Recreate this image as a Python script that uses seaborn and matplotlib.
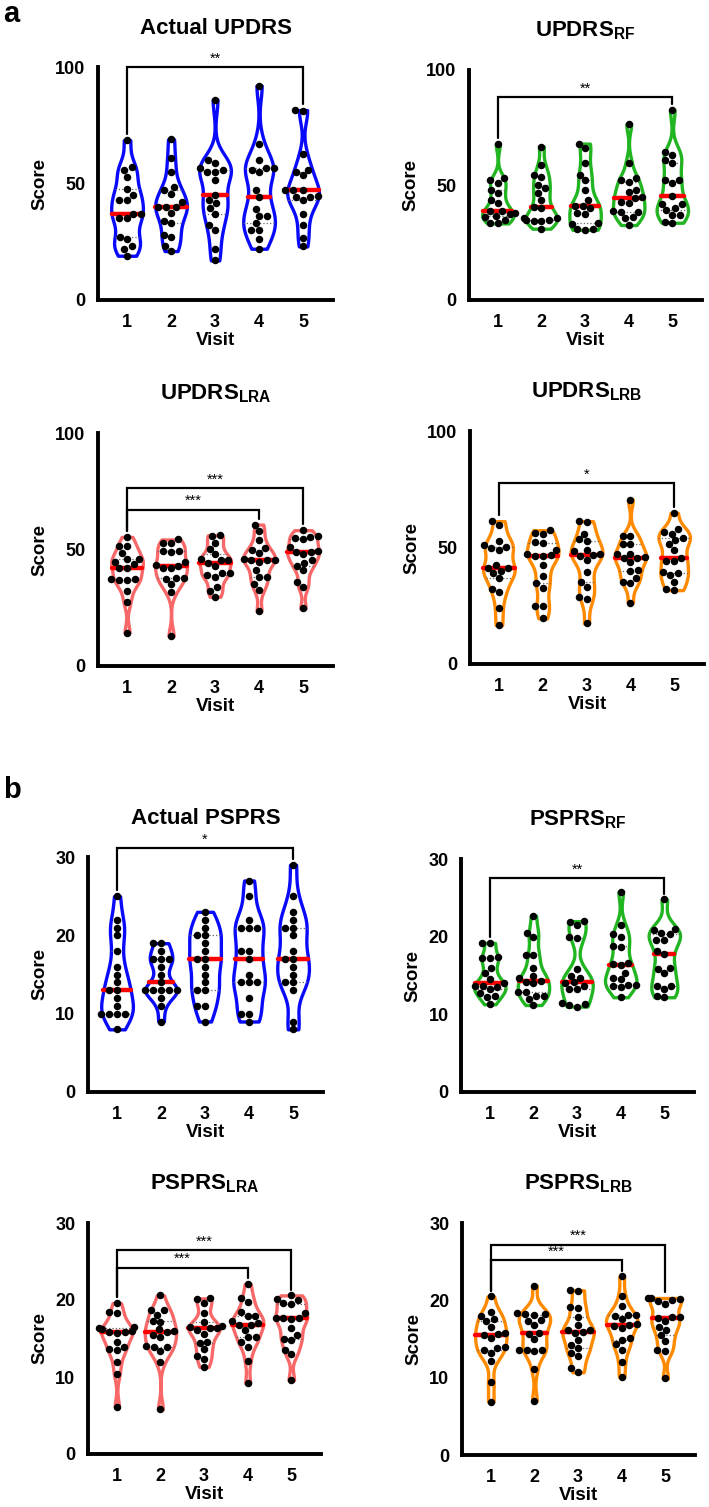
import numpy as np
import pandas as pd
import matplotlib
matplotlib.use('Agg')
import matplotlib.pyplot as plt
import seaborn as sns

sns.set_style('white')
plt.rcParams['font.family'] = ['Liberation Sans', 'DejaVu Sans']
plt.rcParams['font.weight'] = 'bold'
plt.rcParams['text.color'] = 'black'
plt.rcParams['axes.labelcolor'] = 'black'
plt.rcParams['xtick.color'] = 'black'
plt.rcParams['ytick.color'] = 'black'
plt.rcParams['mathtext.fontset'] = 'custom'
plt.rcParams['mathtext.rm'] = 'Liberation Sans:bold'
plt.rcParams['mathtext.it'] = 'Liberation Sans:bold'
plt.rcParams['mathtext.bf'] = 'Liberation Sans:bold'

visits = ['1', '2', '3', '4', '5']

# ---- UPDRS (panel a) ----
updrs_actual = [
    [68.6, 57, 56, 53, 47.5, 45, 43, 43, 37, 37, 35, 35, 27, 26, 23, 22, 19],
    [69, 61, 55, 48.5, 47, 45.5, 42, 40, 40, 40, 37.5, 34, 33, 28, 27, 23, 21],
    [86, 60, 59, 56.5, 56, 55, 55, 51.5, 45, 43, 41.5, 39.5, 37, 32, 30, 22, 17],
    [92, 67, 60, 56.5, 56.5, 56, 55, 47, 44, 39, 36, 36, 33, 30, 30, 26, 22],
    [81.5, 81, 62.5, 56, 55, 53.5, 47, 47, 47, 44.5, 44.3, 44, 43, 37, 32, 26.5, 23],
]
updrs_rf = [
    [68, 53, 52, 51, 48, 46.5, 43.5, 42, 38.7, 38.5, 37.7, 37.5, 36.5, 36, 35, 33.6, 33.3],
    [66.7, 58.5, 54.5, 53.5, 50, 48.5, 46.5, 43.5, 40.3, 40, 35.5, 35.5, 35, 35, 34.5, 34.5, 31],
    [68, 66, 59.5, 54.5, 52, 48, 43.5, 41, 41, 40, 37.7, 37.5, 33.3, 33, 31, 30.7, 30.5],
    [76.5, 59.5, 53, 52, 51.5, 48, 47, 45, 44.2, 42.8, 42, 38.5, 38.4, 38.3, 36, 35.5, 32.6],
    [82.6, 64.5, 63, 61, 59.5, 52.2, 52, 50.7, 45.2, 41.7, 41.7, 40, 39, 37, 37, 34, 33.6],
]
updrs_lra = [
    [55.4, 51.6, 51.5, 48.3, 46.1, 46, 44.7, 43.7, 42.1, 42, 37.3, 37.3, 37, 37, 32, 27.3, 14.3],
    [54.3, 53, 52.6, 49.3, 49.3, 49, 44.7, 43.5, 43, 42, 41.9, 37.6, 37.6, 37.5, 35, 31.6, 12.9],
    [56.1, 56, 53, 50.4, 48, 46, 45.4, 45.3, 44.3, 43, 40, 39.7, 39, 38.3, 34, 32.3, 29.7],
    [60.7, 58, 54, 50.5, 50, 48.3, 46, 45.7, 45.4, 45.4, 44.7, 41, 38, 38, 35, 32.6, 23.7],
    [58.3, 56, 55.4, 55, 54.3, 51, 49.3, 49, 48.9, 48, 45.4, 44.3, 43, 41, 36, 34, 24.7],
]
updrs_lrb = [
    [61.3, 59.6, 53, 51, 50.3, 49.6, 49, 42.7, 41.3, 41, 40, 38.9, 36.7, 32.4, 31, 24, 16.7],
    [57.4, 56.3, 56, 52.4, 52, 49.1, 47, 46.7, 46.5, 46.3, 42.4, 37.9, 34.6, 32.7, 25, 24.7, 19.6],
    [61.3, 61, 56, 53.5, 53, 49, 48.5, 47, 46.7, 46.5, 44.6, 39.6, 35.3, 33.1, 28.9, 27.7, 17.4],
    [70.6, 55, 54.8, 51.7, 51.5, 47.4, 47.3, 46, 45.7, 45.5, 43.9, 40.3, 40, 37.1, 35, 34.8, 26.3],
    [64.9, 58.1, 56.7, 56, 53.9, 53.1, 51.4, 49.1, 45.3, 44.3, 44, 39.3, 39, 38.1, 35.3, 32, 31.7],
]

# ---- PSPRS (panel b) ----
psprs_actual = [
    [25, 22, 21, 20, 18, 16, 15, 14, 13, 13, 12, 11, 10, 10, 10, 10, 8],
    [19, 19, 18, 17, 17, 17, 16, 15, 14, 13, 13, 13, 13, 13, 12, 11, 9],
    [23, 22, 21, 20, 20, 19, 18, 17, 17, 16, 15, 14, 13, 13, 11, 11, 9],
    [27, 25, 22, 21, 21, 21, 18, 18, 17, 15, 14, 14, 14, 12, 10, 10, 9],
    [29, 25, 23, 22, 21, 21, 20, 18, 17, 17, 16, 15, 14, 14, 13, 9, 8],
]
psprs_rf = [
    [19.2, 19.2, 17.4, 17.3, 17.2, 16, 15.3, 14.5, 14, 13.7, 13.7, 13.5, 13.2, 12.7, 12.3, 12.2, 11.3],
    [22.7, 20.5, 20, 17.6, 17.6, 16, 15, 14.7, 14.3, 14.2, 14, 12.9, 12.9, 12.4, 12.4, 12, 11.2],
    [22, 21.9, 21.5, 20, 19.8, 15.8, 15, 14.7, 14.1, 14, 13.6, 13.2, 13.2, 11.5, 11.3, 11.2, 11],
    [25.8, 21.5, 20.3, 20, 18.8, 18.7, 16.6, 16.5, 16.4, 15.3, 14.7, 14.5, 13.8, 13.8, 13.7, 13.5, 12.2],
    [24.8, 21, 20.9, 20.5, 20.3, 19.6, 19.6, 18.2, 17.8, 16, 15.9, 15.3, 13.7, 13.6, 13.3, 12.4, 12.2],
]
psprs_lra = [
    [19.6, 18.4, 18.3, 16.5, 16.3, 16.2, 16, 15.9, 15.8, 15.7, 14.5, 13.9, 13.6, 13.5, 11.9, 10.4, 6.1],
    [20.6, 18.7, 18.7, 18.1, 17.3, 17.2, 16.2, 16, 15.8, 15.5, 15.2, 14, 13.9, 13.9, 13.4, 12, 5.8],
    [20.2, 20.1, 19.6, 18.3, 17.2, 16.6, 16.5, 16.3, 16.3, 16.1, 15.6, 14.5, 14.4, 13.6, 12.7, 12.3, 11.3],
    [22.1, 20.3, 19.8, 18.5, 17.9, 17.9, 17.3, 17, 16.8, 16.7, 16.1, 15.2, 15.2, 14.5, 13.9, 12.1, 9.2],
    [20.6, 20.1, 20, 19.6, 19.5, 18.3, 17.7, 17.6, 17.6, 17.5, 16.3, 15.5, 15, 14.8, 13.5, 13, 9.6],
]
psprs_lrb = [
    [20.5, 18.5, 18, 17.6, 17.3, 16.5, 15.8, 15.6, 15.5, 15.1, 14, 13.8, 13.6, 13.2, 12.2, 9.4, 6.9],
    [21.9, 18.4, 18.2, 18.2, 18.1, 17.4, 17.3, 16.8, 15.8, 15.7, 15, 13.6, 13.6, 13.6, 13.5, 11.1, 7],
    [21.3, 21.2, 19.1, 19, 17.9, 16.8, 16.2, 16.1, 15.9, 15.8, 14.9, 14.2, 13.9, 13.2, 12.8, 11.2, 10.7],
    [23.1, 20.6, 19.3, 18.1, 18.1, 18, 17.6, 16.9, 16.8, 16.7, 16.4, 15.1, 14.9, 14.3, 13.6, 12, 10.1],
    [20.3, 20.3, 20.2, 20, 19.9, 19.5, 17.9, 17.8, 17.7, 17.3, 16.6, 16.2, 15.5, 14.7, 13.6, 13.5, 9.9],
]

# significance brackets: (from visit idx, to visit idx, height, label)
br_updrs_actual = [(0, 4, 100, '**')]
br_updrs_rf = [(0, 4, 88.4, '**')]
br_updrs_lra = [(0, 4, 76.4, '***'), (0, 3, 67.1, '***')]
br_updrs_lrb = [(0, 4, 77.7, '*')]
br_psprs_actual = [(0, 4, 31.1, '*')]
br_psprs_rf = [(0, 4, 27.5, '**')]
br_psprs_lra = [(0, 4, 26.5, '***'), (0, 3, 24.2, '***')]
br_psprs_lrb = [(0, 4, 27.2, '***'), (0, 3, 25.2, '***')]

BLUE = '#0A0AFA'
GREEN = '#22B522'
SALMON = '#F86868'
ORANGE = '#FF8A00'

W, H = 709, 1507
fig = plt.figure(figsize=(W / 100, H / 100), dpi=100)


def px_rect(l, t, r, b):
    return [l / W, 1 - b / H, (r - l) / W, (b - t) / H]


def draw_panel(rect, groups, color, title, ymax, yticks, brackets):
    ax = fig.add_axes(px_rect(*rect))
    df = pd.DataFrame({
        'Visit': np.repeat(visits, [len(g) for g in groups]),
        'Score': np.concatenate(groups),
    })
    sns.violinplot(data=df, x='Visit', y='Score', ax=ax, color='white', saturation=1,
                   linecolor=color, linewidth=2.4, cut=0, inner='quart',
                   density_norm='width', width=0.72, bw_adjust=0.6)
    # recolour the quartile lines: median red and solid, quartiles dotted grey
    for i, ln in enumerate(ax.lines):
        if i % 3 == 1:
            ln.set_color('red')
            ln.set_linestyle('-')
            ln.set_linewidth(3.2)
            ln.set_zorder(2.5)
        else:
            ln.set_color('#666666')
            ln.set_linestyle(':')
            ln.set_linewidth(0.9)
    sns.swarmplot(data=df, x='Visit', y='Score', ax=ax, color='black', size=5.4, zorder=3)

    gap = 0.025 * ymax
    for i0, i1, h, lab in brackets:
        ax.plot([i0, i0, i1, i1], [max(groups[i0]) + gap, h, h, max(groups[i1]) + gap],
                color='black', lw=1.6, clip_on=False, solid_joinstyle='miter', zorder=4)
        ax.text((i0 + i1) / 2, h + 0.006 * ymax, lab, ha='center', va='bottom',
                fontsize=10.5, fontweight='normal')

    ax.set_xlim(-0.66, 4.68)
    ax.set_ylim(0, ymax)
    ax.set_yticks(yticks)
    ax.set_title(title, fontsize=16, fontweight='bold', pad=24)
    ax.set_ylabel('Score', fontsize=13.5, fontweight='bold', labelpad=5)
    ax.set_xlabel('Visit', fontsize=13.5, fontweight='bold', labelpad=1)
    for s in ['top', 'right']:
        ax.spines[s].set_visible(False)
    for s in ['left', 'bottom']:
        ax.spines[s].set_linewidth(2.8)
        ax.spines[s].set_color('black')
    ax.tick_params(axis='y', width=2.8, length=7, labelsize=13, pad=2, colors='black')
    ax.tick_params(axis='x', width=2.8, length=8, labelsize=13, pad=2, colors='black')
    return ax


draw_panel((98, 67, 333, 300), updrs_actual, BLUE, 'Actual UPDRS', 100, [0, 50, 100], br_updrs_actual)
draw_panel((469, 70, 702, 300), updrs_rf, GREEN, r'UPDRS$_{\mathrm{RF}}$', 100, [0, 50, 100], br_updrs_rf)
draw_panel((98, 433, 333, 666), updrs_lra, SALMON, r'UPDRS$_{\mathrm{LRA}}$', 100, [0, 50, 100], br_updrs_lra)
draw_panel((470, 431, 704, 664), updrs_lrb, ORANGE, r'UPDRS$_{\mathrm{LRB}}$', 100, [0, 50, 100], br_updrs_lrb)
draw_panel((88, 857, 323, 1092), psprs_actual, BLUE, 'Actual PSPRS', 30, [0, 10, 20, 30], br_psprs_actual)
draw_panel((461, 859, 694, 1092), psprs_rf, GREEN, r'PSPRS$_{\mathrm{RF}}$', 30, [0, 10, 20, 30], br_psprs_rf)
draw_panel((88, 1223, 321, 1454), psprs_lra, SALMON, r'PSPRS$_{\mathrm{LRA}}$', 30, [0, 10, 20, 30], br_psprs_lra)
draw_panel((462, 1223, 695, 1455), psprs_lrb, ORANGE, r'PSPRS$_{\mathrm{LRB}}$', 30, [0, 10, 20, 30], br_psprs_lrb)

fig.text(3 / W, 1 - 22 / H, 'a', fontsize=21, fontweight='bold', va='baseline')
fig.text(3 / W, 1 - 798 / H, 'b', fontsize=21, fontweight='bold', va='baseline')

fig.savefig('out.png', dpi=100, facecolor='white')
